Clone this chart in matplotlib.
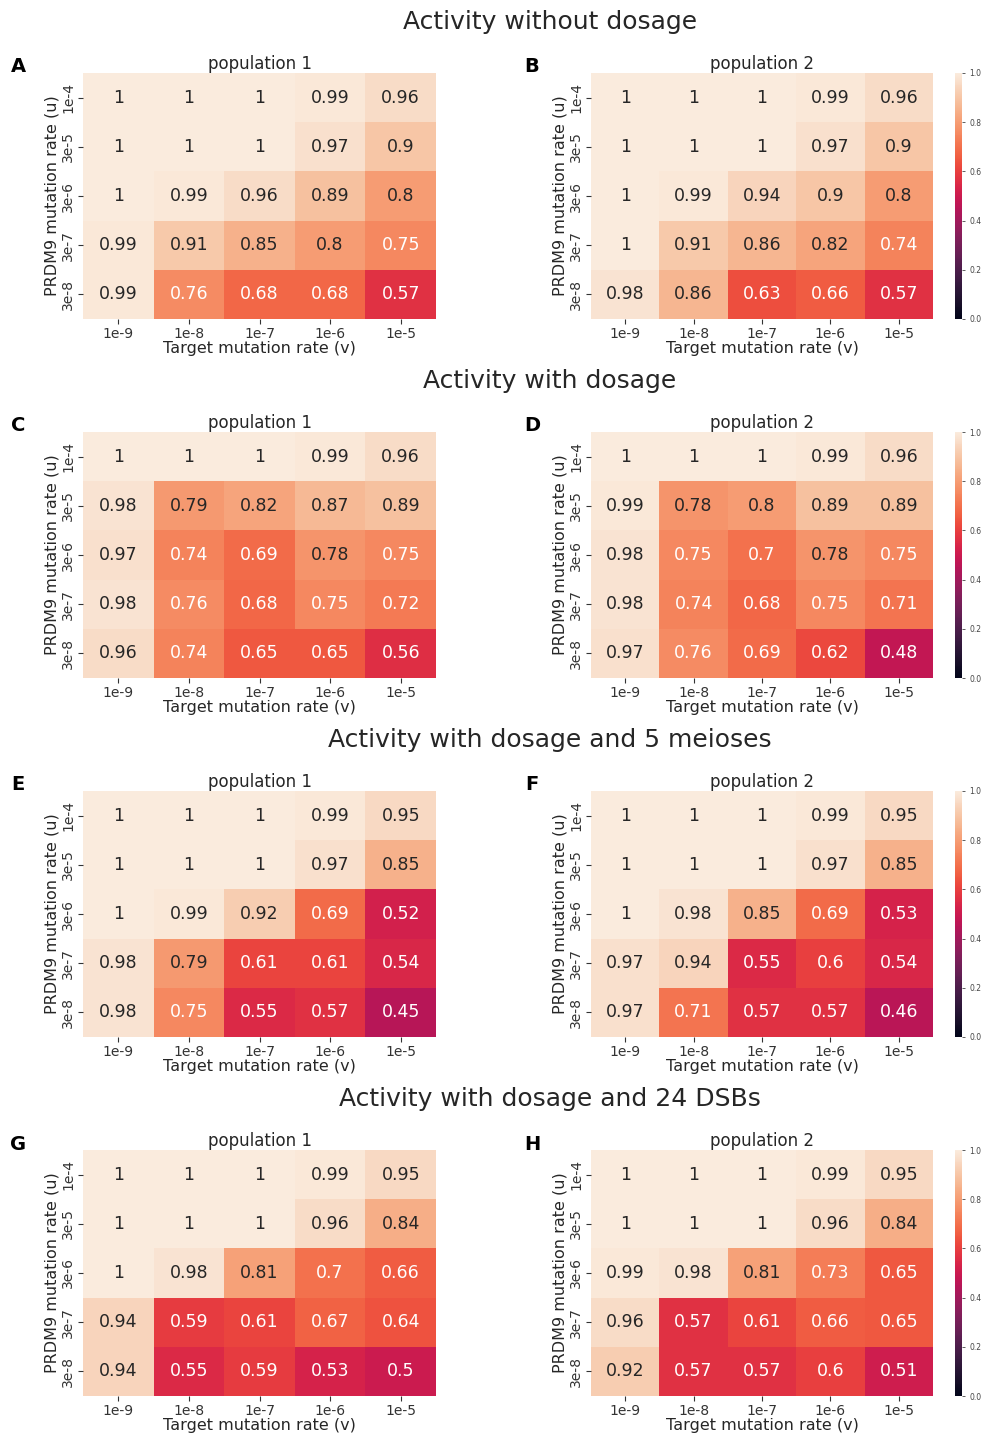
import matplotlib
matplotlib.use("Agg")
import matplotlib.pyplot as plt
import numpy as np
import seaborn as sns

u_labels = ["1e-4", "3e-5", "3e-6", "3e-7", "3e-8"]
v_labels = ["1e-9", "1e-8", "1e-7", "1e-6", "1e-5"]

row_titles = ["Activity without dosage", "Activity with dosage",
              "Activity with dosage and 5 meioses", "Activity with dosage and 24 DSBs"]
panel_letters = ["A", "B", "C", "D", "E", "F", "G", "H"]
subtitles = ["population 1", "population 2"]

A = [[1, 1, 1, 0.99, 0.96],
     [1, 1, 1, 0.97, 0.9],
     [1, 0.99, 0.96, 0.89, 0.8],
     [0.99, 0.91, 0.85, 0.8, 0.75],
     [0.99, 0.76, 0.68, 0.68, 0.57]]
B = [[1, 1, 1, 0.99, 0.96],
     [1, 1, 1, 0.97, 0.9],
     [1, 0.99, 0.94, 0.9, 0.8],
     [1, 0.91, 0.86, 0.82, 0.74],
     [0.98, 0.86, 0.63, 0.66, 0.57]]
C = [[1, 1, 1, 0.99, 0.96],
     [0.98, 0.79, 0.82, 0.87, 0.89],
     [0.97, 0.74, 0.69, 0.78, 0.75],
     [0.98, 0.76, 0.68, 0.75, 0.72],
     [0.96, 0.74, 0.65, 0.65, 0.56]]
D = [[1, 1, 1, 0.99, 0.96],
     [0.99, 0.78, 0.8, 0.89, 0.89],
     [0.98, 0.75, 0.7, 0.78, 0.75],
     [0.98, 0.74, 0.68, 0.75, 0.71],
     [0.97, 0.76, 0.69, 0.62, 0.48]]
E = [[1, 1, 1, 0.99, 0.95],
     [1, 1, 1, 0.97, 0.85],
     [1, 0.99, 0.92, 0.69, 0.52],
     [0.98, 0.79, 0.61, 0.61, 0.54],
     [0.98, 0.75, 0.55, 0.57, 0.45]]
F = [[1, 1, 1, 0.99, 0.95],
     [1, 1, 1, 0.97, 0.85],
     [1, 0.98, 0.85, 0.69, 0.53],
     [0.97, 0.94, 0.55, 0.6, 0.54],
     [0.97, 0.71, 0.57, 0.57, 0.46]]
G = [[1, 1, 1, 0.99, 0.95],
     [1, 1, 1, 0.96, 0.84],
     [1, 0.98, 0.81, 0.7, 0.66],
     [0.94, 0.59, 0.61, 0.67, 0.64],
     [0.94, 0.55, 0.59, 0.53, 0.5]]
H = [[1, 1, 1, 0.99, 0.95],
     [1, 1, 1, 0.96, 0.84],
     [0.99, 0.98, 0.81, 0.73, 0.65],
     [0.96, 0.57, 0.61, 0.66, 0.65],
     [0.92, 0.57, 0.57, 0.6, 0.51]]

panels = [A, B, C, D, E, F, G, H]

W, Hpx = 985, 1434
fig = plt.figure(figsize=(W / 100, Hpx / 100), dpi=100)

def fx(x):
    return x / W

def fy(y):
    return 1 - y / Hpx

txt_col = "#262626"
row_tops = [73, 432, 791, 1150]
ax_h = 246
for r in range(4):
    top = row_tops[r]
    fig.text(fx(550), fy(top - 51), row_titles[r], ha="center", va="center",
             fontsize=18, color=txt_col)
    for c in range(2):
        if c == 0:
            left, width = 83, 353
        else:
            left, width = 591, 342
        ax = fig.add_axes([fx(left), fy(top + ax_h), fx(width), ax_h / Hpx])
        data = np.array(panels[2 * r + c])
        if c == 1:
            cax = fig.add_axes([fx(955), fy(top + ax_h), fx(7), ax_h / Hpx])
            sns.heatmap(data, ax=ax, vmin=0, vmax=1, annot=True, cbar=True, cbar_ax=cax,
                        annot_kws={"size": 12.5}, xticklabels=v_labels, yticklabels=u_labels)
            cax.tick_params(labelsize=5.5, length=2, width=0.6, colors="#444444")
            cax.set_yticks([0, 0.2, 0.4, 0.6, 0.8, 1.0])
            cax.set_yticklabels(["0.0", "0.2", "0.4", "0.6", "0.8", "1.0"])
        else:
            sns.heatmap(data, ax=ax, vmin=0, vmax=1, annot=True, cbar=False,
                        annot_kws={"size": 12.5}, xticklabels=v_labels, yticklabels=u_labels)
        ax.tick_params(labelsize=10, pad=2, length=3.5, colors="#333333")
        ax.set_yticklabels(u_labels, rotation=90, va="center")
        ax.set_xticklabels(v_labels, rotation=0)
        ax.set_xlabel("Target mutation rate (v)", fontsize=11.5, labelpad=0, color=txt_col)
        ax.set_ylabel("PRDM9 mutation rate (u)", fontsize=11.5, labelpad=1, color=txt_col)
        ax.set_title(subtitles[c], fontsize=12, pad=3, color=txt_col)
        lx = 18 if c == 0 else 532
        fig.text(fx(lx), fy(top - 6), panel_letters[2 * r + c], ha="center", va="center",
                 fontsize=14, fontweight="bold")

fig.savefig("out.png", dpi=100)
